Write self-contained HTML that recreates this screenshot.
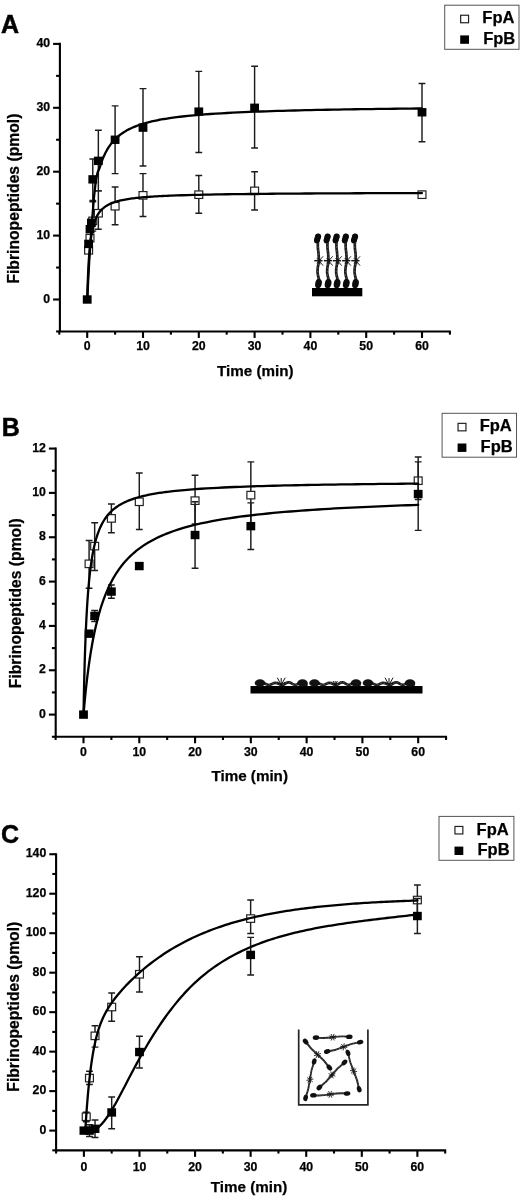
<!DOCTYPE html>
<html><head><meta charset="utf-8"><title>Figure</title>
<style>html,body{margin:0;padding:0;background:#fff}svg{display:block}.t{font-family:"Liberation Sans",sans-serif;font-weight:bold;stroke:#000;stroke-width:0.25px;fill:#000}.L{stroke-width:0.5px}</style></head>
<body>
<svg width="520" height="1200" viewBox="0 0 520 1200">
<rect width="520" height="1200" fill="#fff"/>
<g id="panelA">
<text x="1.0" y="33.3" class="t L" font-size="25">A</text>
<path d="M59.90 42.80 V331.45 H450.90" fill="none" stroke="#000" stroke-width="2.1" stroke-linejoin="miter"/>
<line x1="56.10" x2="59.90" y1="331.45" y2="331.45" stroke="#000" stroke-width="2.1"/>
<line x1="53.10" x2="59.90" y1="299.50" y2="299.50" stroke="#000" stroke-width="2.1"/>
<text x="50.10" y="302.70" text-anchor="end" class="t" font-size="12.3">0</text>
<line x1="56.10" x2="59.90" y1="267.55" y2="267.55" stroke="#000" stroke-width="2.1"/>
<line x1="53.10" x2="59.90" y1="235.60" y2="235.60" stroke="#000" stroke-width="2.1"/>
<text x="50.10" y="238.80" text-anchor="end" class="t" font-size="12.3">10</text>
<line x1="56.10" x2="59.90" y1="203.65" y2="203.65" stroke="#000" stroke-width="2.1"/>
<line x1="53.10" x2="59.90" y1="171.70" y2="171.70" stroke="#000" stroke-width="2.1"/>
<text x="50.10" y="174.90" text-anchor="end" class="t" font-size="12.3">20</text>
<line x1="56.10" x2="59.90" y1="139.75" y2="139.75" stroke="#000" stroke-width="2.1"/>
<line x1="53.10" x2="59.90" y1="107.80" y2="107.80" stroke="#000" stroke-width="2.1"/>
<text x="50.10" y="111.00" text-anchor="end" class="t" font-size="12.3">30</text>
<line x1="56.10" x2="59.90" y1="75.85" y2="75.85" stroke="#000" stroke-width="2.1"/>
<line x1="53.10" x2="59.90" y1="43.90" y2="43.90" stroke="#000" stroke-width="2.1"/>
<text x="50.10" y="47.10" text-anchor="end" class="t" font-size="12.3">40</text>
<line x1="59.30" x2="59.30" y1="331.45" y2="334.65" stroke="#000" stroke-width="2.1"/>
<line x1="87.20" x2="87.20" y1="331.45" y2="337.95" stroke="#000" stroke-width="2.1"/>
<text x="87.20" y="350.15" text-anchor="middle" class="t" font-size="12.3">0</text>
<line x1="115.10" x2="115.10" y1="331.45" y2="334.65" stroke="#000" stroke-width="2.1"/>
<line x1="143.00" x2="143.00" y1="331.45" y2="337.95" stroke="#000" stroke-width="2.1"/>
<text x="143.00" y="350.15" text-anchor="middle" class="t" font-size="12.3">10</text>
<line x1="170.90" x2="170.90" y1="331.45" y2="334.65" stroke="#000" stroke-width="2.1"/>
<line x1="198.80" x2="198.80" y1="331.45" y2="337.95" stroke="#000" stroke-width="2.1"/>
<text x="198.80" y="350.15" text-anchor="middle" class="t" font-size="12.3">20</text>
<line x1="226.70" x2="226.70" y1="331.45" y2="334.65" stroke="#000" stroke-width="2.1"/>
<line x1="254.60" x2="254.60" y1="331.45" y2="337.95" stroke="#000" stroke-width="2.1"/>
<text x="254.60" y="350.15" text-anchor="middle" class="t" font-size="12.3">30</text>
<line x1="282.50" x2="282.50" y1="331.45" y2="334.65" stroke="#000" stroke-width="2.1"/>
<line x1="310.40" x2="310.40" y1="331.45" y2="337.95" stroke="#000" stroke-width="2.1"/>
<text x="310.40" y="350.15" text-anchor="middle" class="t" font-size="12.3">40</text>
<line x1="338.30" x2="338.30" y1="331.45" y2="334.65" stroke="#000" stroke-width="2.1"/>
<line x1="366.20" x2="366.20" y1="331.45" y2="337.95" stroke="#000" stroke-width="2.1"/>
<text x="366.20" y="350.15" text-anchor="middle" class="t" font-size="12.3">50</text>
<line x1="394.10" x2="394.10" y1="331.45" y2="334.65" stroke="#000" stroke-width="2.1"/>
<line x1="422.00" x2="422.00" y1="331.45" y2="337.95" stroke="#000" stroke-width="2.1"/>
<text x="422.00" y="350.15" text-anchor="middle" class="t" font-size="12.3">60</text>
<line x1="449.90" x2="449.90" y1="331.45" y2="334.65" stroke="#000" stroke-width="2.1"/>
<text x="255.30" y="376.2" text-anchor="middle" class="t" font-size="15.2">Time (min)</text>
<text transform="translate(18.7 198.6) rotate(-90)" text-anchor="middle" class="t" font-size="15.7">Fibrinopeptides (pmol)</text>
<path d="M92.78 201.73 V231.13 M89.38 201.73 h6.8 M89.38 231.13 h6.8" fill="none" stroke="#1c1c1c" stroke-width="1.45"/>
<path d="M98.36 190.87 V229.21 M94.96 190.87 h6.8 M94.96 229.21 h6.8" fill="none" stroke="#1c1c1c" stroke-width="1.45"/>
<path d="M115.10 187.04 V224.74 M111.70 187.04 h6.8 M111.70 224.74 h6.8" fill="none" stroke="#1c1c1c" stroke-width="1.45"/>
<path d="M143.00 173.62 V216.43 M139.60 173.62 h6.8 M139.60 216.43 h6.8" fill="none" stroke="#1c1c1c" stroke-width="1.45"/>
<path d="M198.80 175.53 V213.24 M195.40 175.53 h6.8 M195.40 213.24 h6.8" fill="none" stroke="#1c1c1c" stroke-width="1.45"/>
<path d="M254.60 171.70 V210.04 M251.20 171.70 h6.8 M251.20 210.04 h6.8" fill="none" stroke="#1c1c1c" stroke-width="1.45"/>
<path d="M422.00 191.51 V197.90 M418.60 191.51 h6.8 M418.60 197.90 h6.8" fill="none" stroke="#1c1c1c" stroke-width="1.45"/>
<rect x="84.64" y="246.55" width="7.9" height="7.5" fill="#fff" stroke="#222" stroke-width="1.2"/>
<rect x="86.04" y="234.41" width="7.9" height="7.5" fill="#fff" stroke="#222" stroke-width="1.2"/>
<rect x="88.83" y="217.15" width="7.9" height="7.5" fill="#fff" stroke="#222" stroke-width="1.2"/>
<rect x="94.41" y="209.49" width="7.9" height="7.5" fill="#fff" stroke="#222" stroke-width="1.2"/>
<rect x="111.15" y="202.46" width="7.9" height="7.5" fill="#fff" stroke="#222" stroke-width="1.2"/>
<rect x="139.05" y="191.59" width="7.9" height="7.5" fill="#fff" stroke="#222" stroke-width="1.2"/>
<rect x="194.85" y="190.95" width="7.9" height="7.5" fill="#fff" stroke="#222" stroke-width="1.2"/>
<rect x="250.65" y="187.12" width="7.9" height="7.5" fill="#fff" stroke="#222" stroke-width="1.2"/>
<rect x="418.05" y="190.95" width="7.9" height="7.5" fill="#fff" stroke="#222" stroke-width="1.2"/>
<path d="M92.78 158.92 V200.45 M89.38 158.92 h6.8 M89.38 200.45 h6.8" fill="none" stroke="#1c1c1c" stroke-width="1.45"/>
<path d="M98.36 130.17 V190.87 M94.96 130.17 h6.8 M94.96 190.87 h6.8" fill="none" stroke="#1c1c1c" stroke-width="1.45"/>
<path d="M115.10 105.88 V173.62 M111.70 105.88 h6.8 M111.70 173.62 h6.8" fill="none" stroke="#1c1c1c" stroke-width="1.45"/>
<path d="M143.00 88.63 V165.95 M139.60 88.63 h6.8 M139.60 165.95 h6.8" fill="none" stroke="#1c1c1c" stroke-width="1.45"/>
<path d="M198.80 71.38 V152.53 M195.40 71.38 h6.8 M195.40 152.53 h6.8" fill="none" stroke="#1c1c1c" stroke-width="1.45"/>
<path d="M254.60 66.27 V148.06 M251.20 66.27 h6.8 M251.20 148.06 h6.8" fill="none" stroke="#1c1c1c" stroke-width="1.45"/>
<path d="M422.00 83.52 V141.67 M418.60 83.52 h6.8 M418.60 141.67 h6.8" fill="none" stroke="#1c1c1c" stroke-width="1.45"/>
<rect x="82.80" y="295.30" width="8.8" height="8.4" fill="#000"/>
<rect x="84.19" y="239.71" width="8.8" height="8.4" fill="#000"/>
<rect x="85.59" y="225.01" width="8.8" height="8.4" fill="#000"/>
<rect x="86.98" y="218.62" width="8.8" height="8.4" fill="#000"/>
<rect x="88.38" y="175.17" width="8.8" height="8.4" fill="#000"/>
<rect x="93.96" y="156.64" width="8.8" height="8.4" fill="#000"/>
<rect x="110.70" y="135.55" width="8.8" height="8.4" fill="#000"/>
<rect x="138.60" y="123.41" width="8.8" height="8.4" fill="#000"/>
<rect x="194.40" y="107.43" width="8.8" height="8.4" fill="#000"/>
<rect x="250.20" y="103.60" width="8.8" height="8.4" fill="#000"/>
<rect x="417.60" y="108.07" width="8.8" height="8.4" fill="#000"/>
<path d="M87.30 299.50 L88.20 280.00 L89.30 260.00 L90.70 239.00 L92.30 218.00 L94.00 197.00 L95.90 180.00 L97.60 172.50 L99.75 167.50 L100.59 164.86 L100.87 164.01 L101.15 163.18 L101.43 162.38 L101.71 161.59 L101.99 160.83 L102.27 160.09 L102.55 159.37 L102.82 158.67 L103.10 157.98 L103.38 157.32 L103.66 156.67 L103.94 156.03 L104.22 155.41 L105.61 152.53 L107.01 149.96 L108.40 147.65 L109.80 145.57 L111.19 143.68 L112.59 141.96 L113.98 140.39 L115.38 138.94 L116.77 137.61 L118.17 136.38 L119.56 135.24 L120.96 134.18 L122.35 133.19 L123.75 132.27 L125.14 131.40 L126.54 130.59 L127.93 129.83 L129.33 129.11 L130.72 128.43 L132.12 127.79 L133.51 127.18 L134.91 126.61 L136.30 126.06 L137.70 125.54 L139.09 125.05 L140.49 124.58 L141.88 124.13 L143.28 123.70 L144.67 123.29 L146.07 122.90 L147.46 122.52 L148.86 122.16 L150.25 121.81 L151.65 121.48 L153.04 121.16 L154.44 120.86 L155.83 120.56 L157.23 120.28 L158.62 120.00 L160.02 119.74 L161.41 119.48 L162.81 119.23 L164.20 119.00 L165.60 118.77 L166.99 118.54 L168.39 118.33 L169.78 118.12 L171.18 117.91 L176.76 117.16 L182.34 116.49 L187.92 115.90 L193.50 115.36 L199.08 114.87 L204.66 114.42 L210.24 114.02 L215.82 113.65 L221.40 113.31 L226.98 112.99 L232.56 112.70 L238.14 112.42 L243.72 112.17 L249.30 111.94 L254.88 111.71 L260.46 111.51 L266.04 111.31 L271.62 111.13 L277.20 110.96 L282.78 110.79 L288.36 110.64 L293.94 110.49 L299.52 110.35 L305.10 110.22 L310.68 110.09 L316.26 109.97 L321.84 109.86 L327.42 109.75 L333.00 109.65 L338.58 109.55 L344.16 109.45 L349.74 109.36 L355.32 109.27 L360.90 109.19 L366.48 109.11 L372.06 109.03 L377.64 108.95 L383.22 108.88 L388.80 108.81 L394.38 108.75 L399.96 108.68 L405.54 108.62 L411.12 108.56 L416.70 108.50 L422.00 108.45" fill="none" stroke="#000" stroke-width="2.3" stroke-linejoin="round" stroke-linecap="round"/>
<path d="M87.20 299.50 L87.48 289.81 L87.76 281.73 L88.04 274.88 L88.32 269.00 L88.59 263.91 L88.87 259.44 L89.15 255.50 L89.43 252.00 L89.71 248.86 L89.99 246.04 L90.27 243.48 L90.55 241.16 L90.83 239.03 L91.11 237.09 L91.39 235.29 L91.66 233.64 L91.94 232.11 L92.22 230.68 L92.50 229.36 L92.78 228.12 L93.06 226.96 L93.34 225.88 L93.62 224.86 L93.90 223.90 L94.18 222.99 L94.45 222.14 L94.73 221.33 L95.01 220.56 L95.29 219.84 L95.57 219.15 L95.85 218.49 L96.13 217.86 L96.41 217.27 L96.69 216.70 L96.97 216.15 L97.24 215.63 L97.52 215.13 L97.80 214.65 L98.08 214.20 L98.36 213.76 L98.64 213.33 L98.92 212.93 L99.20 212.53 L99.48 212.16 L99.75 211.79 L100.03 211.44 L100.31 211.11 L100.59 210.78 L100.87 210.46 L101.15 210.16 L101.43 209.86 L101.71 209.58 L101.99 209.30 L102.27 209.03 L102.54 208.78 L102.82 208.52 L103.10 208.28 L103.38 208.04 L103.66 207.81 L103.94 207.59 L104.22 207.37 L105.61 206.37 L107.01 205.49 L108.40 204.72 L109.80 204.03 L111.19 203.41 L112.59 202.85 L113.98 202.35 L115.38 201.89 L116.77 201.47 L118.17 201.09 L119.56 200.73 L120.96 200.40 L122.35 200.10 L123.75 199.82 L125.14 199.56 L126.54 199.31 L127.93 199.08 L129.33 198.87 L130.72 198.66 L132.12 198.47 L133.51 198.29 L134.91 198.12 L136.30 197.96 L137.70 197.81 L139.09 197.67 L140.49 197.53 L141.88 197.40 L143.28 197.27 L144.67 197.16 L146.07 197.04 L147.46 196.93 L148.86 196.83 L150.25 196.73 L151.65 196.64 L153.04 196.55 L154.44 196.46 L155.83 196.37 L157.23 196.29 L158.62 196.21 L160.02 196.14 L161.41 196.07 L162.81 196.00 L164.20 195.93 L165.60 195.87 L166.99 195.80 L168.39 195.74 L169.78 195.68 L171.18 195.63 L176.76 195.42 L182.34 195.23 L187.92 195.06 L193.50 194.91 L199.08 194.78 L204.66 194.66 L210.24 194.55 L215.82 194.45 L221.40 194.35 L226.98 194.27 L232.56 194.19 L238.14 194.11 L243.72 194.04 L249.30 193.98 L254.88 193.92 L260.46 193.86 L266.04 193.81 L271.62 193.76 L277.20 193.71 L282.78 193.67 L288.36 193.63 L293.94 193.59 L299.52 193.55 L305.10 193.52 L310.68 193.48 L316.26 193.45 L321.84 193.42 L327.42 193.39 L333.00 193.36 L338.58 193.34 L344.16 193.31 L349.74 193.29 L355.32 193.26 L360.90 193.24 L366.48 193.22 L372.06 193.20 L377.64 193.18 L383.22 193.16 L388.80 193.14 L394.38 193.12 L399.96 193.10 L405.54 193.09 L411.12 193.07 L416.70 193.06 L422.00 193.04" fill="none" stroke="#000" stroke-width="2.3" stroke-linejoin="round" stroke-linecap="round"/>
<rect x="444.7" y="5.2" width="74.3" height="44.1" fill="#fff" stroke="#555" stroke-width="1"/>
<rect x="460.65" y="15.25" width="7.9" height="7.5" fill="#fff" stroke="#222" stroke-width="1.2"/>
<rect x="460.20" y="35.40" width="8.8" height="8.4" fill="#000"/>
<text x="482.30" y="23.30" class="t" font-size="16.5">FpA</text>
<text x="483.20" y="43.70" class="t" font-size="16.5">FpB</text>
<rect x="312" y="288" width="50.3" height="8.3" fill="#000"/>
<path d="M317.90 243.00 C317.90 244.60 317.70 244.40 317.90 247.80 C318.10 251.20 318.20 249.80 318.50 253.20 C318.80 256.60 318.60 255.50 318.80 258.00 C319.00 260.50 319.30 258.30 319.10 260.70 C318.90 263.10 318.70 262.10 318.20 265.20 C317.70 268.30 317.70 266.80 317.60 270.00 C317.50 273.20 317.40 271.63 317.90 274.80 C318.40 277.97 318.70 277.93 319.10 279.50" fill="none" stroke="#1c1c1c" stroke-width="2.7"/>
<path d="M317.90 243.00 C317.90 244.60 317.70 244.40 317.90 247.80 C318.10 251.20 318.20 249.80 318.50 253.20 C318.80 256.60 318.60 255.50 318.80 258.00 C319.00 260.50 319.30 258.30 319.10 260.70 C318.90 263.10 318.70 262.10 318.20 265.20 C317.70 268.30 317.70 266.80 317.60 270.00 C317.50 273.20 317.40 271.63 317.90 274.80 C318.40 277.97 318.70 277.93 319.10 279.50" fill="none" stroke="#8c8c8c" stroke-width="0.6" stroke-dasharray="1.3 2.2"/>
<circle cx="318.1" cy="236.4" r="3.0" fill="#0a0a0a"/>
<circle cx="316.9" cy="240.5" r="2.9" fill="#0a0a0a"/>
<ellipse cx="317.5" cy="238.4" rx="3.0" ry="4.6" fill="#0a0a0a" transform="rotate(16 317.5 238.4)"/>
<ellipse cx="318.5" cy="283.6" rx="3.3" ry="4.8" fill="#0a0a0a" transform="rotate(12 318.5 283.6)"/>
<line x1="314.3" y1="260.7" x2="322.5" y2="260.7" stroke="#141414" stroke-width="1.5"/>
<line x1="316.9" y1="263.3" x2="323.1" y2="256.3" stroke="#141414" stroke-width="0.9"/>
<line x1="316.9" y1="258.1" x2="323.1" y2="265.7" stroke="#141414" stroke-width="0.9"/>
<line x1="318.1" y1="257.1" x2="320.1" y2="264.3" stroke="#141414" stroke-width="0.8"/>
<path d="M327.50 243.00 C327.50 244.60 327.30 244.40 327.50 247.80 C327.70 251.20 327.80 249.80 328.10 253.20 C328.40 256.60 328.20 255.50 328.40 258.00 C328.60 260.50 328.90 258.30 328.70 260.70 C328.50 263.10 328.30 262.10 327.80 265.20 C327.30 268.30 327.30 266.80 327.20 270.00 C327.10 273.20 327.00 271.63 327.50 274.80 C328.00 277.97 328.30 277.93 328.70 279.50" fill="none" stroke="#1c1c1c" stroke-width="2.7"/>
<path d="M327.50 243.00 C327.50 244.60 327.30 244.40 327.50 247.80 C327.70 251.20 327.80 249.80 328.10 253.20 C328.40 256.60 328.20 255.50 328.40 258.00 C328.60 260.50 328.90 258.30 328.70 260.70 C328.50 263.10 328.30 262.10 327.80 265.20 C327.30 268.30 327.30 266.80 327.20 270.00 C327.10 273.20 327.00 271.63 327.50 274.80 C328.00 277.97 328.30 277.93 328.70 279.50" fill="none" stroke="#8c8c8c" stroke-width="0.6" stroke-dasharray="1.3 2.2"/>
<circle cx="327.7" cy="236.4" r="3.0" fill="#0a0a0a"/>
<circle cx="326.5" cy="240.5" r="2.9" fill="#0a0a0a"/>
<ellipse cx="327.1" cy="238.4" rx="3.0" ry="4.6" fill="#0a0a0a" transform="rotate(16 327.1 238.4)"/>
<ellipse cx="328.1" cy="283.6" rx="3.3" ry="4.8" fill="#0a0a0a" transform="rotate(12 328.1 283.6)"/>
<line x1="323.9" y1="260.7" x2="332.1" y2="260.7" stroke="#141414" stroke-width="1.5"/>
<line x1="326.5" y1="263.3" x2="332.7" y2="256.3" stroke="#141414" stroke-width="0.9"/>
<line x1="326.5" y1="258.1" x2="332.7" y2="265.7" stroke="#141414" stroke-width="0.9"/>
<line x1="327.7" y1="257.1" x2="329.7" y2="264.3" stroke="#141414" stroke-width="0.8"/>
<path d="M336.50 243.00 C336.50 244.60 336.30 244.40 336.50 247.80 C336.70 251.20 336.80 249.80 337.10 253.20 C337.40 256.60 337.20 255.50 337.40 258.00 C337.60 260.50 337.90 258.30 337.70 260.70 C337.50 263.10 337.30 262.10 336.80 265.20 C336.30 268.30 336.30 266.80 336.20 270.00 C336.10 273.20 336.00 271.63 336.50 274.80 C337.00 277.97 337.30 277.93 337.70 279.50" fill="none" stroke="#1c1c1c" stroke-width="2.7"/>
<path d="M336.50 243.00 C336.50 244.60 336.30 244.40 336.50 247.80 C336.70 251.20 336.80 249.80 337.10 253.20 C337.40 256.60 337.20 255.50 337.40 258.00 C337.60 260.50 337.90 258.30 337.70 260.70 C337.50 263.10 337.30 262.10 336.80 265.20 C336.30 268.30 336.30 266.80 336.20 270.00 C336.10 273.20 336.00 271.63 336.50 274.80 C337.00 277.97 337.30 277.93 337.70 279.50" fill="none" stroke="#8c8c8c" stroke-width="0.6" stroke-dasharray="1.3 2.2"/>
<circle cx="336.7" cy="236.4" r="3.0" fill="#0a0a0a"/>
<circle cx="335.5" cy="240.5" r="2.9" fill="#0a0a0a"/>
<ellipse cx="336.1" cy="238.4" rx="3.0" ry="4.6" fill="#0a0a0a" transform="rotate(16 336.1 238.4)"/>
<ellipse cx="337.1" cy="283.6" rx="3.3" ry="4.8" fill="#0a0a0a" transform="rotate(12 337.1 283.6)"/>
<line x1="332.9" y1="260.7" x2="341.1" y2="260.7" stroke="#141414" stroke-width="1.5"/>
<line x1="335.5" y1="263.3" x2="341.7" y2="256.3" stroke="#141414" stroke-width="0.9"/>
<line x1="335.5" y1="258.1" x2="341.7" y2="265.7" stroke="#141414" stroke-width="0.9"/>
<line x1="336.7" y1="257.1" x2="338.7" y2="264.3" stroke="#141414" stroke-width="0.8"/>
<path d="M345.70 243.00 C345.70 244.60 345.50 244.40 345.70 247.80 C345.90 251.20 346.00 249.80 346.30 253.20 C346.60 256.60 346.40 255.50 346.60 258.00 C346.80 260.50 347.10 258.30 346.90 260.70 C346.70 263.10 346.50 262.10 346.00 265.20 C345.50 268.30 345.50 266.80 345.40 270.00 C345.30 273.20 345.20 271.63 345.70 274.80 C346.20 277.97 346.50 277.93 346.90 279.50" fill="none" stroke="#1c1c1c" stroke-width="2.7"/>
<path d="M345.70 243.00 C345.70 244.60 345.50 244.40 345.70 247.80 C345.90 251.20 346.00 249.80 346.30 253.20 C346.60 256.60 346.40 255.50 346.60 258.00 C346.80 260.50 347.10 258.30 346.90 260.70 C346.70 263.10 346.50 262.10 346.00 265.20 C345.50 268.30 345.50 266.80 345.40 270.00 C345.30 273.20 345.20 271.63 345.70 274.80 C346.20 277.97 346.50 277.93 346.90 279.50" fill="none" stroke="#8c8c8c" stroke-width="0.6" stroke-dasharray="1.3 2.2"/>
<circle cx="345.9" cy="236.4" r="3.0" fill="#0a0a0a"/>
<circle cx="344.7" cy="240.5" r="2.9" fill="#0a0a0a"/>
<ellipse cx="345.3" cy="238.4" rx="3.0" ry="4.6" fill="#0a0a0a" transform="rotate(16 345.3 238.4)"/>
<ellipse cx="346.3" cy="283.6" rx="3.3" ry="4.8" fill="#0a0a0a" transform="rotate(12 346.3 283.6)"/>
<line x1="342.1" y1="260.7" x2="350.3" y2="260.7" stroke="#141414" stroke-width="1.5"/>
<line x1="344.7" y1="263.3" x2="350.9" y2="256.3" stroke="#141414" stroke-width="0.9"/>
<line x1="344.7" y1="258.1" x2="350.9" y2="265.7" stroke="#141414" stroke-width="0.9"/>
<line x1="345.9" y1="257.1" x2="347.9" y2="264.3" stroke="#141414" stroke-width="0.8"/>
<path d="M354.90 243.00 C354.90 244.60 354.70 244.40 354.90 247.80 C355.10 251.20 355.20 249.80 355.50 253.20 C355.80 256.60 355.60 255.50 355.80 258.00 C356.00 260.50 356.30 258.30 356.10 260.70 C355.90 263.10 355.70 262.10 355.20 265.20 C354.70 268.30 354.70 266.80 354.60 270.00 C354.50 273.20 354.40 271.63 354.90 274.80 C355.40 277.97 355.70 277.93 356.10 279.50" fill="none" stroke="#1c1c1c" stroke-width="2.7"/>
<path d="M354.90 243.00 C354.90 244.60 354.70 244.40 354.90 247.80 C355.10 251.20 355.20 249.80 355.50 253.20 C355.80 256.60 355.60 255.50 355.80 258.00 C356.00 260.50 356.30 258.30 356.10 260.70 C355.90 263.10 355.70 262.10 355.20 265.20 C354.70 268.30 354.70 266.80 354.60 270.00 C354.50 273.20 354.40 271.63 354.90 274.80 C355.40 277.97 355.70 277.93 356.10 279.50" fill="none" stroke="#8c8c8c" stroke-width="0.6" stroke-dasharray="1.3 2.2"/>
<circle cx="355.1" cy="236.4" r="3.0" fill="#0a0a0a"/>
<circle cx="353.9" cy="240.5" r="2.9" fill="#0a0a0a"/>
<ellipse cx="354.5" cy="238.4" rx="3.0" ry="4.6" fill="#0a0a0a" transform="rotate(16 354.5 238.4)"/>
<ellipse cx="355.5" cy="283.6" rx="3.3" ry="4.8" fill="#0a0a0a" transform="rotate(12 355.5 283.6)"/>
<line x1="351.3" y1="260.7" x2="359.5" y2="260.7" stroke="#141414" stroke-width="1.5"/>
<line x1="353.9" y1="263.3" x2="360.1" y2="256.3" stroke="#141414" stroke-width="0.9"/>
<line x1="353.9" y1="258.1" x2="360.1" y2="265.7" stroke="#141414" stroke-width="0.9"/>
<line x1="355.1" y1="257.1" x2="357.1" y2="264.3" stroke="#141414" stroke-width="0.8"/>
</g>
<g id="panelB">
<text x="1.8" y="436" class="t L" font-size="25">B</text>
<path d="M55.70 447.46 V736.77 H447.07" fill="none" stroke="#000" stroke-width="2.1" stroke-linejoin="miter"/>
<line x1="51.90" x2="55.70" y1="736.77" y2="736.77" stroke="#000" stroke-width="2.1"/>
<line x1="48.90" x2="55.70" y1="714.60" y2="714.60" stroke="#000" stroke-width="2.1"/>
<text x="45.90" y="717.80" text-anchor="end" class="t" font-size="12.3">0</text>
<line x1="51.90" x2="55.70" y1="692.43" y2="692.43" stroke="#000" stroke-width="2.1"/>
<line x1="48.90" x2="55.70" y1="670.26" y2="670.26" stroke="#000" stroke-width="2.1"/>
<text x="45.90" y="673.46" text-anchor="end" class="t" font-size="12.3">2</text>
<line x1="51.90" x2="55.70" y1="648.09" y2="648.09" stroke="#000" stroke-width="2.1"/>
<line x1="48.90" x2="55.70" y1="625.92" y2="625.92" stroke="#000" stroke-width="2.1"/>
<text x="45.90" y="629.12" text-anchor="end" class="t" font-size="12.3">4</text>
<line x1="51.90" x2="55.70" y1="603.75" y2="603.75" stroke="#000" stroke-width="2.1"/>
<line x1="48.90" x2="55.70" y1="581.58" y2="581.58" stroke="#000" stroke-width="2.1"/>
<text x="45.90" y="584.78" text-anchor="end" class="t" font-size="12.3">6</text>
<line x1="51.90" x2="55.70" y1="559.41" y2="559.41" stroke="#000" stroke-width="2.1"/>
<line x1="48.90" x2="55.70" y1="537.24" y2="537.24" stroke="#000" stroke-width="2.1"/>
<text x="45.90" y="540.44" text-anchor="end" class="t" font-size="12.3">8</text>
<line x1="51.90" x2="55.70" y1="515.07" y2="515.07" stroke="#000" stroke-width="2.1"/>
<line x1="48.90" x2="55.70" y1="492.90" y2="492.90" stroke="#000" stroke-width="2.1"/>
<text x="45.90" y="496.10" text-anchor="end" class="t" font-size="12.3">10</text>
<line x1="51.90" x2="55.70" y1="470.73" y2="470.73" stroke="#000" stroke-width="2.1"/>
<line x1="48.90" x2="55.70" y1="448.56" y2="448.56" stroke="#000" stroke-width="2.1"/>
<text x="45.90" y="451.76" text-anchor="end" class="t" font-size="12.3">12</text>
<line x1="55.61" x2="55.61" y1="736.77" y2="739.97" stroke="#000" stroke-width="2.1"/>
<line x1="83.50" x2="83.50" y1="736.77" y2="743.27" stroke="#000" stroke-width="2.1"/>
<text x="83.50" y="756.17" text-anchor="middle" class="t" font-size="12.3">0</text>
<line x1="111.39" x2="111.39" y1="736.77" y2="739.97" stroke="#000" stroke-width="2.1"/>
<line x1="139.28" x2="139.28" y1="736.77" y2="743.27" stroke="#000" stroke-width="2.1"/>
<text x="139.28" y="756.17" text-anchor="middle" class="t" font-size="12.3">10</text>
<line x1="167.17" x2="167.17" y1="736.77" y2="739.97" stroke="#000" stroke-width="2.1"/>
<line x1="195.06" x2="195.06" y1="736.77" y2="743.27" stroke="#000" stroke-width="2.1"/>
<text x="195.06" y="756.17" text-anchor="middle" class="t" font-size="12.3">20</text>
<line x1="222.95" x2="222.95" y1="736.77" y2="739.97" stroke="#000" stroke-width="2.1"/>
<line x1="250.84" x2="250.84" y1="736.77" y2="743.27" stroke="#000" stroke-width="2.1"/>
<text x="250.84" y="756.17" text-anchor="middle" class="t" font-size="12.3">30</text>
<line x1="278.73" x2="278.73" y1="736.77" y2="739.97" stroke="#000" stroke-width="2.1"/>
<line x1="306.62" x2="306.62" y1="736.77" y2="743.27" stroke="#000" stroke-width="2.1"/>
<text x="306.62" y="756.17" text-anchor="middle" class="t" font-size="12.3">40</text>
<line x1="334.51" x2="334.51" y1="736.77" y2="739.97" stroke="#000" stroke-width="2.1"/>
<line x1="362.40" x2="362.40" y1="736.77" y2="743.27" stroke="#000" stroke-width="2.1"/>
<text x="362.40" y="756.17" text-anchor="middle" class="t" font-size="12.3">50</text>
<line x1="390.29" x2="390.29" y1="736.77" y2="739.97" stroke="#000" stroke-width="2.1"/>
<line x1="418.18" x2="418.18" y1="736.77" y2="743.27" stroke="#000" stroke-width="2.1"/>
<text x="418.18" y="756.17" text-anchor="middle" class="t" font-size="12.3">60</text>
<line x1="446.07" x2="446.07" y1="736.77" y2="739.97" stroke="#000" stroke-width="2.1"/>
<text x="249.70" y="780.7" text-anchor="middle" class="t" font-size="15.2">Time (min)</text>
<text transform="translate(21.2 603.2) rotate(-90)" text-anchor="middle" class="t" font-size="15.7">Fibrinopeptides (pmol)</text>
<path d="M89.08 540.57 V588.23 M85.68 540.57 h6.8 M85.68 588.23 h6.8" fill="none" stroke="#1c1c1c" stroke-width="1.45"/>
<path d="M94.66 522.83 V570.50 M91.26 522.83 h6.8 M91.26 570.50 h6.8" fill="none" stroke="#1c1c1c" stroke-width="1.45"/>
<path d="M111.39 503.99 V532.81 M107.99 503.99 h6.8 M107.99 532.81 h6.8" fill="none" stroke="#1c1c1c" stroke-width="1.45"/>
<path d="M139.28 472.95 V529.48 M135.88 472.95 h6.8 M135.88 529.48 h6.8" fill="none" stroke="#1c1c1c" stroke-width="1.45"/>
<path d="M195.06 475.16 V523.94 M191.66 475.16 h6.8 M191.66 523.94 h6.8" fill="none" stroke="#1c1c1c" stroke-width="1.45"/>
<path d="M250.84 461.86 V526.15 M247.44 461.86 h6.8 M247.44 526.15 h6.8" fill="none" stroke="#1c1c1c" stroke-width="1.45"/>
<path d="M418.18 461.86 V499.55 M414.78 461.86 h6.8 M414.78 499.55 h6.8" fill="none" stroke="#1c1c1c" stroke-width="1.45"/>
<rect x="85.13" y="560.09" width="7.9" height="7.5" fill="#fff" stroke="#222" stroke-width="1.2"/>
<rect x="90.71" y="542.36" width="7.9" height="7.5" fill="#fff" stroke="#222" stroke-width="1.2"/>
<rect x="107.44" y="514.65" width="7.9" height="7.5" fill="#fff" stroke="#222" stroke-width="1.2"/>
<rect x="135.33" y="498.02" width="7.9" height="7.5" fill="#fff" stroke="#222" stroke-width="1.2"/>
<rect x="191.11" y="496.91" width="7.9" height="7.5" fill="#fff" stroke="#222" stroke-width="1.2"/>
<rect x="246.89" y="491.37" width="7.9" height="7.5" fill="#fff" stroke="#222" stroke-width="1.2"/>
<rect x="414.23" y="476.96" width="7.9" height="7.5" fill="#fff" stroke="#222" stroke-width="1.2"/>
<path d="M94.66 610.40 V621.49 M91.26 610.40 h6.8 M91.26 621.49 h6.8" fill="none" stroke="#1c1c1c" stroke-width="1.45"/>
<path d="M111.39 584.91 V598.21 M107.99 584.91 h6.8 M107.99 598.21 h6.8" fill="none" stroke="#1c1c1c" stroke-width="1.45"/>
<path d="M139.28 562.74 V569.39 M135.88 562.74 h6.8 M135.88 569.39 h6.8" fill="none" stroke="#1c1c1c" stroke-width="1.45"/>
<path d="M195.06 501.77 V568.28 M191.66 501.77 h6.8 M191.66 568.28 h6.8" fill="none" stroke="#1c1c1c" stroke-width="1.45"/>
<path d="M250.84 502.88 V549.43 M247.44 502.88 h6.8 M247.44 549.43 h6.8" fill="none" stroke="#1c1c1c" stroke-width="1.45"/>
<path d="M418.18 456.98 V530.37 M414.78 456.98 h6.8 M414.78 530.37 h6.8" fill="none" stroke="#1c1c1c" stroke-width="1.45"/>
<rect x="79.10" y="710.40" width="8.8" height="8.4" fill="#000"/>
<rect x="84.68" y="629.48" width="8.8" height="8.4" fill="#000"/>
<rect x="90.26" y="611.74" width="8.8" height="8.4" fill="#000"/>
<rect x="106.99" y="587.36" width="8.8" height="8.4" fill="#000"/>
<rect x="134.88" y="561.86" width="8.8" height="8.4" fill="#000"/>
<rect x="190.66" y="530.82" width="8.8" height="8.4" fill="#000"/>
<rect x="246.44" y="521.95" width="8.8" height="8.4" fill="#000"/>
<rect x="413.78" y="489.81" width="8.8" height="8.4" fill="#000"/>
<path d="M83.50 714.60 L83.78 699.98 L84.06 687.08 L84.34 675.62 L84.62 665.36 L84.89 656.13 L85.17 647.77 L85.45 640.18 L85.73 633.25 L86.01 626.89 L86.29 621.04 L86.57 615.65 L86.85 610.65 L87.13 606.01 L87.40 601.69 L87.68 597.65 L87.96 593.88 L88.24 590.34 L88.52 587.02 L88.80 583.89 L89.08 580.95 L89.36 578.16 L89.64 575.53 L89.91 573.03 L90.19 570.67 L90.47 568.42 L90.75 566.28 L91.03 564.24 L91.31 562.30 L91.59 560.44 L91.87 558.67 L92.15 556.98 L92.42 555.35 L92.70 553.80 L92.98 552.31 L93.26 550.87 L93.54 549.50 L93.82 548.18 L94.10 546.90 L94.38 545.68 L94.66 544.50 L94.93 543.36 L95.21 542.26 L95.49 541.20 L95.77 540.17 L96.05 539.18 L96.33 538.22 L96.61 537.29 L96.89 536.40 L97.17 535.53 L97.44 534.68 L97.72 533.86 L98.00 533.07 L98.28 532.30 L98.56 531.55 L98.84 530.83 L99.12 530.12 L99.40 529.43 L99.68 528.77 L99.96 528.12 L100.23 527.49 L100.51 526.87 L101.91 524.02 L103.30 521.50 L104.70 519.26 L106.09 517.25 L107.49 515.44 L108.88 513.80 L110.27 512.31 L111.67 510.95 L113.06 509.70 L114.46 508.55 L115.85 507.49 L117.25 506.50 L118.64 505.59 L120.04 504.74 L121.43 503.94 L122.82 503.20 L124.22 502.50 L125.61 501.84 L127.01 501.22 L128.40 500.64 L129.80 500.09 L131.19 499.57 L132.59 499.08 L133.98 498.61 L135.38 498.16 L136.77 497.74 L138.16 497.33 L139.56 496.95 L140.95 496.58 L142.35 496.23 L143.74 495.89 L145.14 495.57 L146.53 495.26 L147.93 494.97 L149.32 494.68 L150.71 494.41 L152.11 494.15 L153.50 493.90 L154.90 493.65 L156.29 493.42 L157.69 493.19 L159.08 492.97 L160.48 492.76 L161.87 492.56 L163.27 492.36 L164.66 492.17 L166.05 491.99 L167.45 491.81 L173.03 491.15 L178.60 490.56 L184.18 490.04 L189.76 489.57 L195.34 489.14 L200.92 488.75 L206.49 488.40 L212.07 488.08 L217.65 487.78 L223.23 487.51 L228.81 487.25 L234.38 487.02 L239.96 486.80 L245.54 486.59 L251.12 486.40 L256.70 486.22 L262.27 486.05 L267.85 485.90 L273.43 485.75 L279.01 485.61 L284.59 485.47 L290.16 485.35 L295.74 485.23 L301.32 485.11 L306.90 485.01 L312.48 484.90 L318.05 484.81 L323.63 484.71 L329.21 484.62 L334.79 484.54 L340.37 484.45 L345.94 484.38 L351.52 484.30 L357.10 484.23 L362.68 484.16 L368.26 484.09 L373.83 484.03 L379.41 483.97 L384.99 483.91 L390.57 483.85 L396.15 483.79 L401.72 483.74 L407.30 483.69 L412.88 483.64 L418.18 483.59" fill="none" stroke="#000" stroke-width="2.3" stroke-linejoin="round" stroke-linecap="round"/>
<path d="M83.50 714.60 L83.78 711.33 L84.06 708.15 L84.34 705.06 L84.62 702.06 L84.89 699.14 L85.17 696.31 L85.45 693.55 L85.73 690.86 L86.01 688.25 L86.29 685.70 L86.57 683.22 L86.85 680.80 L87.13 678.45 L87.40 676.15 L87.68 673.91 L87.96 671.72 L88.24 669.59 L88.52 667.50 L88.80 665.46 L89.08 663.48 L89.36 661.53 L89.64 659.63 L89.91 657.78 L90.19 655.96 L90.47 654.18 L90.75 652.44 L91.03 650.74 L91.31 649.08 L91.59 647.45 L91.87 645.85 L92.15 644.29 L92.42 642.76 L92.70 641.26 L92.98 639.78 L93.26 638.34 L93.54 636.93 L93.82 635.54 L94.10 634.18 L94.38 632.84 L94.66 631.54 L94.93 630.25 L95.21 628.99 L95.49 627.75 L95.77 626.53 L96.05 625.34 L96.33 624.17 L96.61 623.01 L96.89 621.88 L97.17 620.77 L97.44 619.67 L97.72 618.60 L98.00 617.54 L98.28 616.50 L98.56 615.48 L98.84 614.47 L99.12 613.49 L99.40 612.51 L99.68 611.56 L99.96 610.61 L100.23 609.69 L100.51 608.77 L101.91 604.42 L103.30 600.38 L104.70 596.62 L106.09 593.12 L107.49 589.85 L108.88 586.78 L110.27 583.90 L111.67 581.20 L113.06 578.65 L114.46 576.25 L115.85 573.97 L117.25 571.82 L118.64 569.78 L120.04 567.84 L121.43 566.00 L122.82 564.25 L124.22 562.58 L125.61 560.99 L127.01 559.46 L128.40 558.01 L129.80 556.62 L131.19 555.28 L132.59 554.00 L133.98 552.78 L135.38 551.60 L136.77 550.46 L138.16 549.38 L139.56 548.33 L140.95 547.32 L142.35 546.34 L143.74 545.40 L145.14 544.49 L146.53 543.62 L147.93 542.77 L149.32 541.95 L150.71 541.16 L152.11 540.40 L153.50 539.65 L154.90 538.93 L156.29 538.24 L157.69 537.56 L159.08 536.90 L160.48 536.27 L161.87 535.65 L163.27 535.05 L164.66 534.46 L166.05 533.89 L167.45 533.34 L173.03 531.27 L178.60 529.40 L184.18 527.71 L189.76 526.17 L195.34 524.76 L200.92 523.47 L206.49 522.28 L212.07 521.18 L217.65 520.16 L223.23 519.21 L228.81 518.32 L234.38 517.50 L239.96 516.72 L245.54 516.00 L251.12 515.32 L256.70 514.67 L262.27 514.07 L267.85 513.50 L273.43 512.95 L279.01 512.44 L284.59 511.95 L290.16 511.49 L295.74 511.05 L301.32 510.63 L306.90 510.23 L312.48 509.84 L318.05 509.48 L323.63 509.13 L329.21 508.79 L334.79 508.47 L340.37 508.16 L345.94 507.86 L351.52 507.58 L357.10 507.31 L362.68 507.04 L368.26 506.79 L373.83 506.54 L379.41 506.31 L384.99 506.08 L390.57 505.86 L396.15 505.65 L401.72 505.44 L407.30 505.24 L412.88 505.05 L418.18 504.87" fill="none" stroke="#000" stroke-width="2.3" stroke-linejoin="round" stroke-linecap="round"/>
<rect x="442.1" y="413.3" width="74.4" height="43.9" fill="#fff" stroke="#555" stroke-width="1"/>
<rect x="458.05" y="423.35" width="7.9" height="7.5" fill="#fff" stroke="#222" stroke-width="1.2"/>
<rect x="457.60" y="443.50" width="8.8" height="8.4" fill="#000"/>
<text x="479.70" y="431.40" class="t" font-size="16.5">FpA</text>
<text x="480.60" y="451.80" class="t" font-size="16.5">FpB</text>
<rect x="250.5" y="686" width="172" height="7.5" fill="#000"/>
<path d="M259 683.6 q3.3 -1.8 6.6 0.3 t6.6 0 t6.6 0 t6.6 -0.3 t6.6 0 t6.6 0 t6.6 0 t-1.4 0" fill="none" stroke="#1c1c1c" stroke-width="2.6"/>
<path d="M259 683.6 q3.3 -1.8 6.6 0.3 t6.6 0 t6.6 0 t6.6 -0.3 t6.6 0 t6.6 0 t6.6 0 t-1.4 0" fill="none" stroke="#888" stroke-width="0.6" stroke-dasharray="1.5 2"/>
<ellipse cx="260" cy="683.0" rx="5.3" ry="3.7" fill="#111"/>
<ellipse cx="302.5" cy="683.0" rx="5.3" ry="3.7" fill="#111"/>
<line x1="281.2" y1="685" x2="277.4" y2="682.1" stroke="#111" stroke-width="1.0"/>
<line x1="281.2" y1="685" x2="277.3" y2="677.7" stroke="#111" stroke-width="1.0"/>
<line x1="281.2" y1="685" x2="281.2" y2="678.0" stroke="#111" stroke-width="1.0"/>
<line x1="281.2" y1="685" x2="285.2" y2="677.7" stroke="#111" stroke-width="1.0"/>
<line x1="281.2" y1="685" x2="285.1" y2="682.1" stroke="#111" stroke-width="1.0"/>
<path d="M313.5 683.6 q3.2 -1.8 6.4 0.3 t6.4 0 t6.4 0 t6.4 -0.3 t6.4 0 t6.4 0 t6.4 0 t-1.6 0" fill="none" stroke="#1c1c1c" stroke-width="2.6"/>
<path d="M313.5 683.6 q3.2 -1.8 6.4 0.3 t6.4 0 t6.4 0 t6.4 -0.3 t6.4 0 t6.4 0 t6.4 0 t-1.6 0" fill="none" stroke="#888" stroke-width="0.6" stroke-dasharray="1.5 2"/>
<ellipse cx="314.5" cy="683.0" rx="5.3" ry="3.7" fill="#111"/>
<ellipse cx="356" cy="683.0" rx="5.3" ry="3.7" fill="#111"/>
<line x1="335.2" y1="685" x2="333.1" y2="683.4" stroke="#111" stroke-width="1.0"/>
<line x1="335.2" y1="685" x2="333.1" y2="681.0" stroke="#111" stroke-width="1.0"/>
<line x1="335.2" y1="685" x2="335.2" y2="681.1" stroke="#111" stroke-width="1.0"/>
<line x1="335.2" y1="685" x2="337.4" y2="681.0" stroke="#111" stroke-width="1.0"/>
<line x1="335.2" y1="685" x2="337.4" y2="683.4" stroke="#111" stroke-width="1.0"/>
<path d="M367 683.6 q3.2 -1.8 6.5 0.3 t6.5 0 t6.5 0 t6.5 -0.3 t6.5 0 t6.5 0 t6.5 0 t-1.5 0" fill="none" stroke="#1c1c1c" stroke-width="2.6"/>
<path d="M367 683.6 q3.2 -1.8 6.5 0.3 t6.5 0 t6.5 0 t6.5 -0.3 t6.5 0 t6.5 0 t6.5 0 t-1.5 0" fill="none" stroke="#888" stroke-width="0.6" stroke-dasharray="1.5 2"/>
<ellipse cx="368" cy="683.0" rx="5.3" ry="3.7" fill="#111"/>
<ellipse cx="410" cy="683.0" rx="5.3" ry="3.7" fill="#111"/>
<line x1="389.0" y1="685" x2="385.1" y2="682.1" stroke="#111" stroke-width="1.0"/>
<line x1="389.0" y1="685" x2="385.0" y2="677.7" stroke="#111" stroke-width="1.0"/>
<line x1="389.0" y1="685" x2="389.0" y2="678.0" stroke="#111" stroke-width="1.0"/>
<line x1="389.0" y1="685" x2="393.0" y2="677.7" stroke="#111" stroke-width="1.0"/>
<line x1="389.0" y1="685" x2="392.9" y2="682.1" stroke="#111" stroke-width="1.0"/>
</g>
<g id="panelC">
<text x="1.0" y="843" class="t L" font-size="25">C</text>
<path d="M56.10 853.14 V1150.34 H446.17" fill="none" stroke="#000" stroke-width="2.1" stroke-linejoin="miter"/>
<line x1="52.30" x2="56.10" y1="1150.34" y2="1150.34" stroke="#000" stroke-width="2.1"/>
<line x1="49.30" x2="56.10" y1="1130.60" y2="1130.60" stroke="#000" stroke-width="2.1"/>
<text x="46.30" y="1133.80" text-anchor="end" class="t" font-size="12.3">0</text>
<line x1="52.30" x2="56.10" y1="1110.86" y2="1110.86" stroke="#000" stroke-width="2.1"/>
<line x1="49.30" x2="56.10" y1="1091.12" y2="1091.12" stroke="#000" stroke-width="2.1"/>
<text x="46.30" y="1094.32" text-anchor="end" class="t" font-size="12.3">20</text>
<line x1="52.30" x2="56.10" y1="1071.38" y2="1071.38" stroke="#000" stroke-width="2.1"/>
<line x1="49.30" x2="56.10" y1="1051.64" y2="1051.64" stroke="#000" stroke-width="2.1"/>
<text x="46.30" y="1054.84" text-anchor="end" class="t" font-size="12.3">40</text>
<line x1="52.30" x2="56.10" y1="1031.90" y2="1031.90" stroke="#000" stroke-width="2.1"/>
<line x1="49.30" x2="56.10" y1="1012.16" y2="1012.16" stroke="#000" stroke-width="2.1"/>
<text x="46.30" y="1015.36" text-anchor="end" class="t" font-size="12.3">60</text>
<line x1="52.30" x2="56.10" y1="992.42" y2="992.42" stroke="#000" stroke-width="2.1"/>
<line x1="49.30" x2="56.10" y1="972.68" y2="972.68" stroke="#000" stroke-width="2.1"/>
<text x="46.30" y="975.88" text-anchor="end" class="t" font-size="12.3">80</text>
<line x1="52.30" x2="56.10" y1="952.94" y2="952.94" stroke="#000" stroke-width="2.1"/>
<line x1="49.30" x2="56.10" y1="933.20" y2="933.20" stroke="#000" stroke-width="2.1"/>
<text x="46.30" y="936.40" text-anchor="end" class="t" font-size="12.3">100</text>
<line x1="52.30" x2="56.10" y1="913.46" y2="913.46" stroke="#000" stroke-width="2.1"/>
<line x1="49.30" x2="56.10" y1="893.72" y2="893.72" stroke="#000" stroke-width="2.1"/>
<text x="46.30" y="896.92" text-anchor="end" class="t" font-size="12.3">120</text>
<line x1="52.30" x2="56.10" y1="873.98" y2="873.98" stroke="#000" stroke-width="2.1"/>
<line x1="49.30" x2="56.10" y1="854.24" y2="854.24" stroke="#000" stroke-width="2.1"/>
<text x="46.30" y="857.44" text-anchor="end" class="t" font-size="12.3">140</text>
<line x1="56.11" x2="56.11" y1="1150.34" y2="1153.54" stroke="#000" stroke-width="2.1"/>
<line x1="83.90" x2="83.90" y1="1150.34" y2="1156.84" stroke="#000" stroke-width="2.1"/>
<text x="83.90" y="1170.54" text-anchor="middle" class="t" font-size="12.3">0</text>
<line x1="111.69" x2="111.69" y1="1150.34" y2="1153.54" stroke="#000" stroke-width="2.1"/>
<line x1="139.48" x2="139.48" y1="1150.34" y2="1156.84" stroke="#000" stroke-width="2.1"/>
<text x="139.48" y="1170.54" text-anchor="middle" class="t" font-size="12.3">10</text>
<line x1="167.27" x2="167.27" y1="1150.34" y2="1153.54" stroke="#000" stroke-width="2.1"/>
<line x1="195.06" x2="195.06" y1="1150.34" y2="1156.84" stroke="#000" stroke-width="2.1"/>
<text x="195.06" y="1170.54" text-anchor="middle" class="t" font-size="12.3">20</text>
<line x1="222.85" x2="222.85" y1="1150.34" y2="1153.54" stroke="#000" stroke-width="2.1"/>
<line x1="250.64" x2="250.64" y1="1150.34" y2="1156.84" stroke="#000" stroke-width="2.1"/>
<text x="250.64" y="1170.54" text-anchor="middle" class="t" font-size="12.3">30</text>
<line x1="278.43" x2="278.43" y1="1150.34" y2="1153.54" stroke="#000" stroke-width="2.1"/>
<line x1="306.22" x2="306.22" y1="1150.34" y2="1156.84" stroke="#000" stroke-width="2.1"/>
<text x="306.22" y="1170.54" text-anchor="middle" class="t" font-size="12.3">40</text>
<line x1="334.01" x2="334.01" y1="1150.34" y2="1153.54" stroke="#000" stroke-width="2.1"/>
<line x1="361.80" x2="361.80" y1="1150.34" y2="1156.84" stroke="#000" stroke-width="2.1"/>
<text x="361.80" y="1170.54" text-anchor="middle" class="t" font-size="12.3">50</text>
<line x1="389.59" x2="389.59" y1="1150.34" y2="1153.54" stroke="#000" stroke-width="2.1"/>
<line x1="417.38" x2="417.38" y1="1150.34" y2="1156.84" stroke="#000" stroke-width="2.1"/>
<text x="417.38" y="1170.54" text-anchor="middle" class="t" font-size="12.3">60</text>
<line x1="445.17" x2="445.17" y1="1150.34" y2="1153.54" stroke="#000" stroke-width="2.1"/>
<text x="249.00" y="1192" text-anchor="middle" class="t" font-size="15.2">Time (min)</text>
<text transform="translate(19.0 1006.7) rotate(-90)" text-anchor="middle" class="t" font-size="15.7">Fibrinopeptides (pmol)</text>
<path d="M86.23 1112.24 V1121.72 M82.83 1112.24 h6.8 M82.83 1121.72 h6.8" fill="none" stroke="#1c1c1c" stroke-width="1.45"/>
<path d="M89.46 1071.18 V1084.41 M86.06 1071.18 h6.8 M86.06 1084.41 h6.8" fill="none" stroke="#1c1c1c" stroke-width="1.45"/>
<path d="M95.02 1025.78 V1047.10 M91.62 1025.78 h6.8 M91.62 1047.10 h6.8" fill="none" stroke="#1c1c1c" stroke-width="1.45"/>
<path d="M111.69 993.01 V1021.24 M108.29 993.01 h6.8 M108.29 1021.24 h6.8" fill="none" stroke="#1c1c1c" stroke-width="1.45"/>
<path d="M139.48 956.69 V992.03 M136.08 956.69 h6.8 M136.08 992.03 h6.8" fill="none" stroke="#1c1c1c" stroke-width="1.45"/>
<path d="M250.64 900.04 V933.59 M247.24 900.04 h6.8 M247.24 933.59 h6.8" fill="none" stroke="#1c1c1c" stroke-width="1.45"/>
<path d="M417.38 885.03 V915.04 M413.98 885.03 h6.8 M413.98 915.04 h6.8" fill="none" stroke="#1c1c1c" stroke-width="1.45"/>
<rect x="82.28" y="1113.03" width="7.9" height="7.5" fill="#fff" stroke="#222" stroke-width="1.2"/>
<rect x="85.51" y="1074.34" width="7.9" height="7.5" fill="#fff" stroke="#222" stroke-width="1.2"/>
<rect x="91.07" y="1032.10" width="7.9" height="7.5" fill="#fff" stroke="#222" stroke-width="1.2"/>
<rect x="107.74" y="1003.28" width="7.9" height="7.5" fill="#fff" stroke="#222" stroke-width="1.2"/>
<rect x="135.53" y="970.51" width="7.9" height="7.5" fill="#fff" stroke="#222" stroke-width="1.2"/>
<rect x="246.69" y="914.84" width="7.9" height="7.5" fill="#fff" stroke="#222" stroke-width="1.2"/>
<rect x="413.43" y="896.29" width="7.9" height="7.5" fill="#fff" stroke="#222" stroke-width="1.2"/>
<path d="M89.46 1124.68 V1136.52 M86.06 1124.68 h6.8 M86.06 1136.52 h6.8" fill="none" stroke="#1c1c1c" stroke-width="1.45"/>
<path d="M95.02 1119.94 V1137.51 M91.62 1119.94 h6.8 M91.62 1137.51 h6.8" fill="none" stroke="#1c1c1c" stroke-width="1.45"/>
<path d="M111.69 1097.04 V1128.82 M108.29 1097.04 h6.8 M108.29 1128.82 h6.8" fill="none" stroke="#1c1c1c" stroke-width="1.45"/>
<path d="M139.48 1036.24 V1068.02 M136.08 1036.24 h6.8 M136.08 1068.02 h6.8" fill="none" stroke="#1c1c1c" stroke-width="1.45"/>
<path d="M250.64 937.35 V975.05 M247.24 937.35 h6.8 M247.24 975.05 h6.8" fill="none" stroke="#1c1c1c" stroke-width="1.45"/>
<path d="M417.38 898.46 V933.59 M413.98 898.46 h6.8 M413.98 933.59 h6.8" fill="none" stroke="#1c1c1c" stroke-width="1.45"/>
<rect x="79.50" y="1126.40" width="8.8" height="8.4" fill="#000"/>
<rect x="85.06" y="1126.40" width="8.8" height="8.4" fill="#000"/>
<rect x="90.62" y="1124.62" width="8.8" height="8.4" fill="#000"/>
<rect x="107.29" y="1108.24" width="8.8" height="8.4" fill="#000"/>
<rect x="135.08" y="1047.83" width="8.8" height="8.4" fill="#000"/>
<rect x="246.24" y="950.71" width="8.8" height="8.4" fill="#000"/>
<rect x="412.98" y="911.83" width="8.8" height="8.4" fill="#000"/>
<path d="M85.29 1130.60 L85.56 1126.12 L85.84 1121.82 L86.12 1117.68 L86.40 1113.71 L86.68 1109.90 L86.95 1106.24 L87.23 1102.72 L87.51 1099.33 L87.79 1096.08 L88.07 1092.95 L88.34 1089.94 L88.62 1087.04 L88.90 1084.26 L89.18 1081.58 L89.46 1079.00 L89.73 1076.51 L90.01 1074.12 L90.29 1071.81 L90.57 1069.59 L90.85 1067.44 L91.12 1065.38 L91.40 1063.38 L91.68 1061.46 L91.96 1059.61 L92.23 1057.81 L92.51 1056.09 L92.79 1054.41 L93.07 1052.80 L93.35 1051.24 L93.62 1049.73 L93.90 1048.27 L94.18 1046.86 L94.46 1045.49 L94.74 1044.16 L95.01 1042.88 L95.29 1041.64 L95.57 1040.43 L95.85 1039.26 L96.13 1038.13 L96.40 1037.03 L96.68 1035.96 L96.96 1034.92 L97.24 1033.91 L97.51 1032.93 L97.79 1031.98 L98.07 1031.05 L98.35 1030.15 L98.63 1029.27 L98.90 1028.41 L99.18 1027.57 L99.46 1026.76 L99.74 1025.96 L100.02 1025.19 L100.29 1024.43 L100.57 1023.69 L100.85 1022.97 L101.13 1022.26 L101.41 1021.57 L101.68 1020.89 L101.96 1020.23 L102.24 1019.58 L102.52 1018.94 L102.79 1018.32 L103.07 1017.71 L103.35 1017.11 L103.63 1016.52 L103.91 1015.94 L104.18 1015.38 L104.46 1014.82 L104.74 1014.27 L105.02 1013.73 L105.30 1013.20 L105.57 1012.68 L105.85 1012.17 L106.13 1011.66 L106.41 1011.16 L106.69 1010.67 L106.96 1010.19 L107.24 1009.71 L107.52 1009.24 L107.80 1008.77 L108.07 1008.31 L108.35 1007.86 L108.63 1007.41 L108.91 1006.97 L109.19 1006.54 L109.46 1006.10 L109.74 1005.68 L110.02 1005.25 L110.30 1004.84 L110.58 1004.42 L110.85 1004.01 L111.13 1003.61 L111.41 1003.21 L111.69 1002.81 L111.69 1002.81 L114.47 999.02 L117.25 995.50 L120.03 992.19 L122.81 989.05 L125.59 986.05 L128.36 983.17 L131.14 980.40 L133.92 977.73 L136.70 975.15 L139.48 972.66 L142.26 970.25 L145.04 967.92 L147.82 965.67 L150.60 963.48 L153.38 961.37 L156.15 959.33 L158.93 957.35 L161.71 955.44 L164.49 953.58 L167.27 951.79 L170.05 950.05 L172.83 948.37 L175.61 946.75 L178.39 945.17 L181.17 943.65 L183.94 942.17 L186.72 940.74 L189.50 939.36 L192.28 938.02 L195.06 936.73 L197.84 935.47 L200.62 934.26 L203.40 933.09 L206.18 931.95 L208.95 930.85 L211.73 929.78 L214.51 928.75 L217.29 927.75 L220.07 926.79 L222.85 925.85 L225.63 924.95 L228.41 924.07 L231.19 923.22 L233.97 922.40 L236.75 921.61 L239.52 920.84 L242.30 920.10 L245.08 919.37 L247.86 918.68 L250.64 918.00 L253.42 917.35 L256.20 916.72 L258.98 916.10 L261.76 915.51 L264.53 914.94 L267.31 914.38 L270.09 913.84 L272.87 913.32 L275.65 912.82 L278.43 912.33 L281.21 911.86 L283.99 911.40 L286.77 910.96 L289.55 910.53 L292.32 910.12 L295.10 909.72 L297.88 909.33 L300.66 908.95 L303.44 908.59 L306.22 908.24 L309.00 907.90 L311.78 907.57 L314.56 907.25 L317.34 906.94 L320.12 906.64 L322.89 906.35 L325.67 906.07 L328.45 905.80 L331.23 905.54 L334.01 905.28 L336.79 905.04 L339.57 904.80 L342.35 904.57 L345.13 904.35 L347.90 904.13 L350.68 903.92 L353.46 903.72 L356.24 903.52 L359.02 903.33 L361.80 903.15 L364.58 902.97 L367.36 902.80 L370.14 902.63 L372.92 902.47 L375.70 902.32 L378.47 902.17 L381.25 902.02 L384.03 901.88 L386.81 901.74 L389.59 901.61 L392.37 901.48 L395.15 901.36 L397.93 901.24 L400.71 901.12 L403.49 901.01 L406.26 900.90 L409.04 900.79 L411.82 900.69 L414.60 900.59 L417.38 900.50" fill="none" stroke="#000" stroke-width="2.3" stroke-linejoin="round" stroke-linecap="round"/>
<path d="M85.01 1130.28 L85.57 1130.60 L86.12 1130.60 L86.68 1130.60 L87.23 1130.60 L87.79 1130.60 L88.35 1130.60 L88.90 1130.60 L89.46 1130.60 L90.01 1130.60 L90.57 1130.60 L91.13 1130.60 L91.68 1130.60 L92.24 1130.60 L92.79 1130.60 L93.35 1130.60 L93.90 1130.43 L94.46 1130.12 L95.02 1129.79 L95.57 1129.44 L96.13 1129.05 L96.68 1128.65 L97.24 1128.22 L97.80 1127.77 L98.35 1127.29 L98.91 1126.80 L99.46 1126.28 L100.02 1125.74 L100.57 1125.18 L101.13 1124.60 L101.69 1124.00 L102.24 1123.38 L102.80 1122.75 L103.35 1122.09 L103.91 1121.42 L104.46 1120.72 L105.02 1120.01 L105.58 1119.29 L106.13 1118.54 L106.69 1117.78 L107.24 1117.00 L107.80 1116.20 L108.36 1115.39 L108.91 1114.56 L109.47 1113.72 L110.02 1112.86 L110.58 1111.98 L111.13 1111.09 L111.69 1110.19 L114.47 1105.45 L117.25 1100.46 L120.03 1095.29 L122.81 1090.01 L125.59 1084.68 L128.36 1079.34 L131.14 1074.02 L133.92 1068.77 L136.70 1063.59 L139.48 1058.51 L142.26 1053.55 L145.04 1048.71 L147.82 1043.99 L150.60 1039.40 L153.38 1034.93 L156.15 1030.58 L158.93 1026.36 L161.71 1022.26 L164.49 1018.28 L167.27 1014.43 L170.05 1010.70 L172.83 1007.09 L175.61 1003.61 L178.39 1000.25 L181.17 997.01 L183.94 993.89 L186.72 990.90 L189.50 988.02 L192.28 985.26 L195.06 982.62 L197.84 980.08 L200.62 977.65 L203.40 975.32 L206.18 973.08 L208.95 970.93 L211.73 968.87 L214.51 966.88 L217.29 964.98 L220.07 963.15 L222.85 961.38 L225.63 959.69 L228.41 958.06 L231.19 956.50 L233.97 954.99 L236.75 953.54 L239.52 952.14 L242.30 950.80 L245.08 949.50 L247.86 948.26 L250.64 947.05 L253.42 945.90 L256.20 944.78 L258.98 943.71 L261.76 942.67 L264.53 941.67 L267.31 940.70 L270.09 939.77 L272.87 938.87 L275.65 938.01 L278.43 937.17 L281.21 936.36 L283.99 935.58 L286.77 934.82 L289.55 934.09 L292.32 933.39 L295.10 932.70 L297.88 932.04 L300.66 931.40 L303.44 930.78 L306.22 930.18 L309.00 929.60 L311.78 929.03 L314.56 928.49 L317.34 927.95 L320.12 927.44 L322.89 926.93 L325.67 926.45 L328.45 925.97 L331.23 925.51 L334.01 925.05 L336.79 924.61 L339.57 924.18 L342.35 923.77 L345.13 923.35 L347.90 922.95 L350.68 922.56 L353.46 922.18 L356.24 921.80 L359.02 921.43 L361.80 921.06 L364.58 920.70 L367.36 920.35 L370.14 920.00 L372.92 919.66 L375.70 919.32 L378.47 918.99 L381.25 918.65 L384.03 918.33 L386.81 918.00 L389.59 917.68 L392.37 917.36 L395.15 917.04 L397.93 916.72 L400.71 916.40 L403.49 916.08 L406.26 915.77 L409.04 915.45 L411.82 915.14 L414.60 914.82 L417.38 914.50" fill="none" stroke="#000" stroke-width="2.3" stroke-linejoin="round" stroke-linecap="round"/>
<rect x="439" y="816.4" width="74.9" height="43.9" fill="#fff" stroke="#555" stroke-width="1"/>
<rect x="454.95" y="826.45" width="7.9" height="7.5" fill="#fff" stroke="#222" stroke-width="1.2"/>
<rect x="454.50" y="846.60" width="8.8" height="8.4" fill="#000"/>
<text x="476.60" y="834.50" class="t" font-size="16.5">FpA</text>
<text x="477.50" y="854.90" class="t" font-size="16.5">FpB</text>
<path d="M298.7 1029.5 V1104.8 H367.9 V1029.5" fill="none" stroke="#262626" stroke-width="1.7"/>
<path d="M316.0 1037.6 Q324.3 1038.6 332.6 1037.2 Q341.0 1035.8 349.3 1036.8" fill="none" stroke="#242424" stroke-width="1.9"/>
<path d="M316.0 1037.6 Q324.3 1038.6 332.6 1037.2 Q341.0 1035.8 349.3 1036.8" fill="none" stroke="#8a8a8a" stroke-width="0.5" stroke-dasharray="1.2 1.8"/>
<ellipse cx="316.0" cy="1037.6" rx="3.3" ry="2.3" transform="rotate(-1.5 316.0 1037.6)" fill="#101010"/>
<ellipse cx="349.3" cy="1036.8" rx="3.3" ry="2.3" transform="rotate(-1.5 349.3 1036.8)" fill="#101010"/>
<line x1="329.3" y1="1035.8" x2="335.9" y2="1038.7" stroke="#161616" stroke-width="0.9"/>
<line x1="331.0" y1="1034.0" x2="334.3" y2="1040.4" stroke="#161616" stroke-width="0.9"/>
<line x1="334.1" y1="1033.9" x2="331.2" y2="1040.5" stroke="#161616" stroke-width="0.9"/>
<line x1="335.9" y1="1035.6" x2="329.4" y2="1038.8" stroke="#161616" stroke-width="0.9"/>
<path d="M327.2 1051.5 Q335.7 1050.3 343.6 1046.8 Q351.5 1043.3 360.1 1042.1" fill="none" stroke="#242424" stroke-width="1.9"/>
<path d="M327.2 1051.5 Q335.7 1050.3 343.6 1046.8 Q351.5 1043.3 360.1 1042.1" fill="none" stroke="#8a8a8a" stroke-width="0.5" stroke-dasharray="1.2 1.8"/>
<ellipse cx="327.2" cy="1051.5" rx="3.3" ry="2.3" transform="rotate(-15.9 327.2 1051.5)" fill="#101010"/>
<ellipse cx="360.1" cy="1042.1" rx="3.3" ry="2.3" transform="rotate(-15.9 360.1 1042.1)" fill="#101010"/>
<line x1="340.1" y1="1046.2" x2="347.2" y2="1047.4" stroke="#161616" stroke-width="0.9"/>
<line x1="341.3" y1="1044.1" x2="346.0" y2="1049.5" stroke="#161616" stroke-width="0.9"/>
<line x1="344.2" y1="1043.3" x2="343.1" y2="1050.4" stroke="#161616" stroke-width="0.9"/>
<line x1="346.4" y1="1044.5" x2="340.9" y2="1049.2" stroke="#161616" stroke-width="0.9"/>
<path d="M305.6 1041.6 Q310.7 1048.9 317.5 1054.6 Q324.4 1060.3 329.4 1067.6" fill="none" stroke="#242424" stroke-width="1.9"/>
<path d="M305.6 1041.6 Q310.7 1048.9 317.5 1054.6 Q324.4 1060.3 329.4 1067.6" fill="none" stroke="#8a8a8a" stroke-width="0.5" stroke-dasharray="1.2 1.8"/>
<ellipse cx="305.6" cy="1041.6" rx="3.3" ry="2.3" transform="rotate(47.4 305.6 1041.6)" fill="#101010"/>
<ellipse cx="329.4" cy="1067.6" rx="3.3" ry="2.3" transform="rotate(47.4 329.4 1067.6)" fill="#101010"/>
<line x1="316.4" y1="1051.2" x2="318.6" y2="1058.0" stroke="#161616" stroke-width="0.9"/>
<line x1="318.9" y1="1051.3" x2="316.1" y2="1057.9" stroke="#161616" stroke-width="0.9"/>
<line x1="320.9" y1="1053.5" x2="314.1" y2="1055.7" stroke="#161616" stroke-width="0.9"/>
<line x1="320.8" y1="1056.0" x2="314.2" y2="1053.2" stroke="#161616" stroke-width="0.9"/>
<path d="M348.0 1052.9 Q349.6 1062.3 353.6 1071.0 Q357.5 1079.8 359.2 1089.2" fill="none" stroke="#242424" stroke-width="1.9"/>
<path d="M348.0 1052.9 Q349.6 1062.3 353.6 1071.0 Q357.5 1079.8 359.2 1089.2" fill="none" stroke="#8a8a8a" stroke-width="0.5" stroke-dasharray="1.2 1.8"/>
<ellipse cx="348.0" cy="1052.9" rx="3.3" ry="2.3" transform="rotate(72.8 348.0 1052.9)" fill="#101010"/>
<ellipse cx="359.2" cy="1089.2" rx="3.3" ry="2.3" transform="rotate(72.8 359.2 1089.2)" fill="#101010"/>
<line x1="354.1" y1="1067.5" x2="353.1" y2="1074.6" stroke="#161616" stroke-width="0.9"/>
<line x1="356.2" y1="1068.6" x2="350.9" y2="1073.5" stroke="#161616" stroke-width="0.9"/>
<line x1="357.1" y1="1071.5" x2="350.0" y2="1070.5" stroke="#161616" stroke-width="0.9"/>
<line x1="356.0" y1="1073.7" x2="351.2" y2="1068.4" stroke="#161616" stroke-width="0.9"/>
<path d="M314.2 1061.5 Q310.9 1070.3 309.9 1079.7 Q308.9 1089.0 305.6 1097.9" fill="none" stroke="#242424" stroke-width="1.9"/>
<path d="M314.2 1061.5 Q310.9 1070.3 309.9 1079.7 Q308.9 1089.0 305.6 1097.9" fill="none" stroke="#8a8a8a" stroke-width="0.5" stroke-dasharray="1.2 1.8"/>
<ellipse cx="314.2" cy="1061.5" rx="3.3" ry="2.3" transform="rotate(103.4 314.2 1061.5)" fill="#101010"/>
<ellipse cx="305.6" cy="1097.9" rx="3.3" ry="2.3" transform="rotate(103.4 305.6 1097.9)" fill="#101010"/>
<line x1="312.1" y1="1076.9" x2="307.7" y2="1082.5" stroke="#161616" stroke-width="0.9"/>
<line x1="313.4" y1="1079.0" x2="306.4" y2="1080.4" stroke="#161616" stroke-width="0.9"/>
<line x1="312.7" y1="1081.9" x2="307.1" y2="1077.5" stroke="#161616" stroke-width="0.9"/>
<line x1="310.6" y1="1083.2" x2="309.2" y2="1076.2" stroke="#161616" stroke-width="0.9"/>
<path d="M344.5 1062.4 Q337.4 1067.8 332.0 1074.9 Q326.5 1082.1 319.4 1087.5" fill="none" stroke="#242424" stroke-width="1.9"/>
<path d="M344.5 1062.4 Q337.4 1067.8 332.0 1074.9 Q326.5 1082.1 319.4 1087.5" fill="none" stroke="#8a8a8a" stroke-width="0.5" stroke-dasharray="1.2 1.8"/>
<ellipse cx="344.5" cy="1062.4" rx="3.3" ry="2.3" transform="rotate(135.0 344.5 1062.4)" fill="#101010"/>
<ellipse cx="319.4" cy="1087.5" rx="3.3" ry="2.3" transform="rotate(135.0 319.4 1087.5)" fill="#101010"/>
<line x1="335.3" y1="1073.7" x2="328.6" y2="1076.2" stroke="#161616" stroke-width="0.9"/>
<line x1="335.3" y1="1076.2" x2="328.6" y2="1073.7" stroke="#161616" stroke-width="0.9"/>
<line x1="333.2" y1="1078.3" x2="330.7" y2="1071.5" stroke="#161616" stroke-width="0.9"/>
<line x1="330.7" y1="1078.3" x2="333.2" y2="1071.5" stroke="#161616" stroke-width="0.9"/>
<path d="M313.4 1095.3 Q321.9 1096.0 330.2 1094.4 Q338.6 1092.8 347.1 1093.5" fill="none" stroke="#242424" stroke-width="1.9"/>
<path d="M313.4 1095.3 Q321.9 1096.0 330.2 1094.4 Q338.6 1092.8 347.1 1093.5" fill="none" stroke="#8a8a8a" stroke-width="0.5" stroke-dasharray="1.2 1.8"/>
<ellipse cx="313.4" cy="1095.3" rx="3.3" ry="2.3" transform="rotate(-2.9 313.4 1095.3)" fill="#101010"/>
<ellipse cx="347.1" cy="1093.5" rx="3.3" ry="2.3" transform="rotate(-2.9 347.1 1093.5)" fill="#101010"/>
<line x1="326.9" y1="1093.0" x2="333.6" y2="1095.7" stroke="#161616" stroke-width="0.9"/>
<line x1="328.5" y1="1091.2" x2="331.9" y2="1097.6" stroke="#161616" stroke-width="0.9"/>
<line x1="331.6" y1="1091.1" x2="328.9" y2="1097.7" stroke="#161616" stroke-width="0.9"/>
<line x1="333.4" y1="1092.7" x2="327.0" y2="1096.1" stroke="#161616" stroke-width="0.9"/>
</g>
</svg>
</body></html>
